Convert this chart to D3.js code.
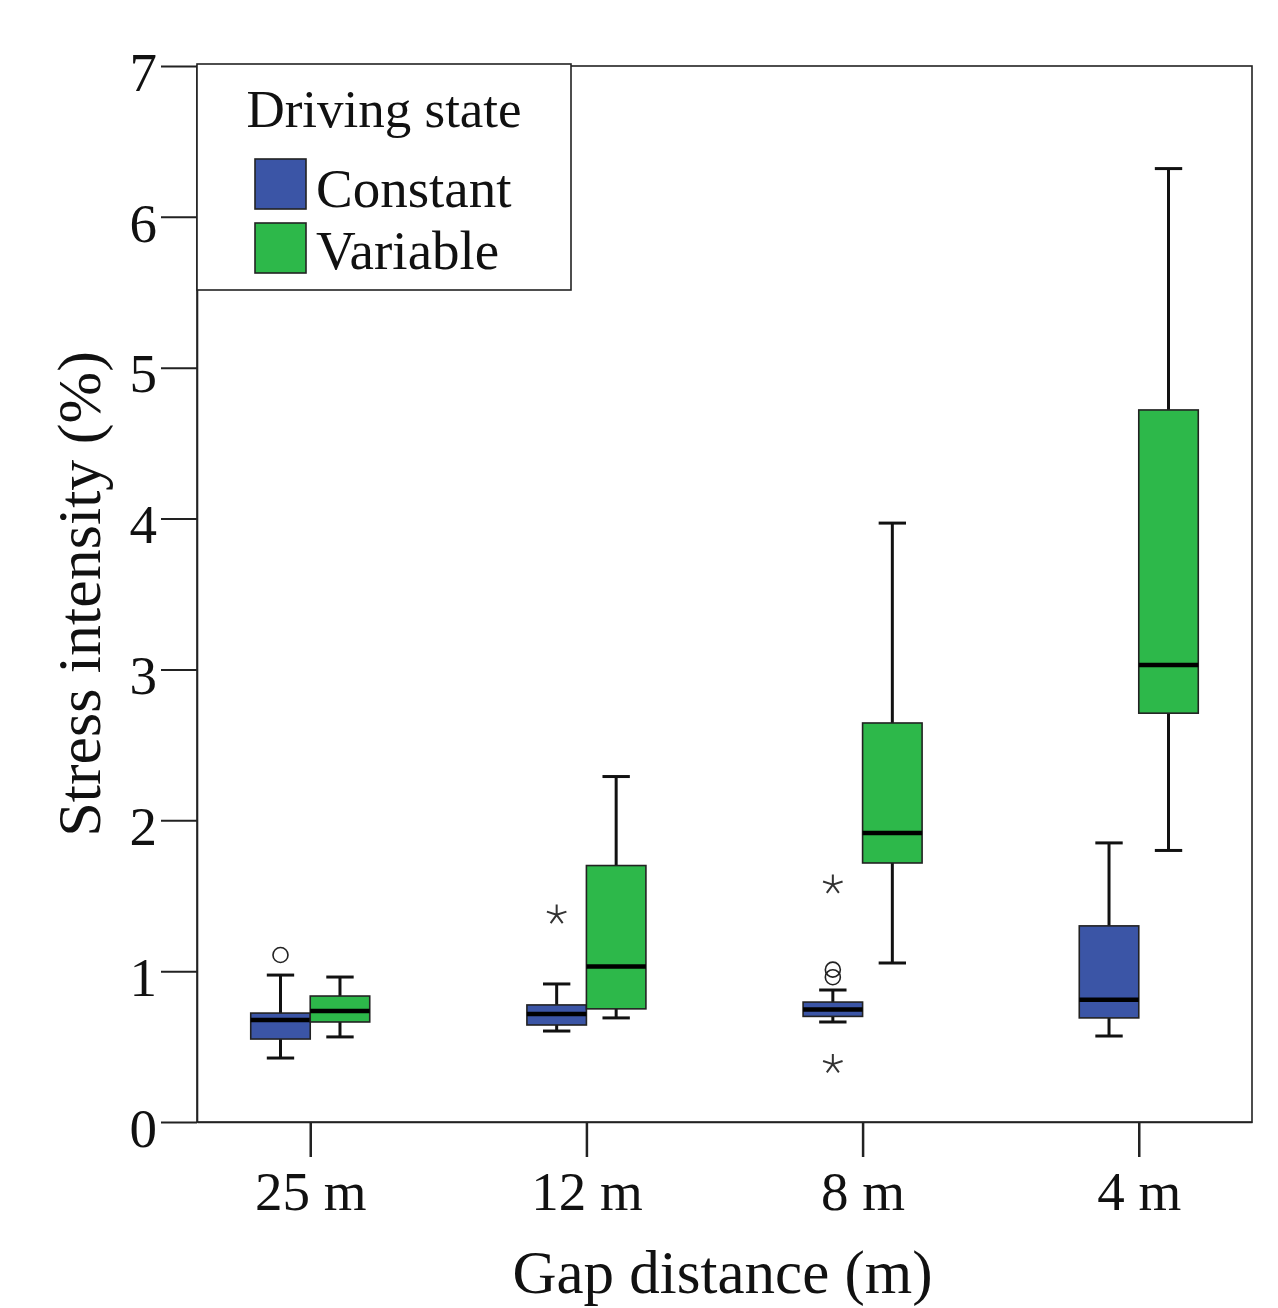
<!DOCTYPE html>
<html>
<head>
<meta charset="utf-8">
<script src="https://cdn.jsdelivr.net/npm/d3@7"></script>
<style>
  html, body { margin: 0; padding: 0; background: #fff; }
  svg { display: block; }
  text { font-family: "Liberation Serif", "Times New Roman", serif; fill: #111; }
</style>
</head>
<body>
<svg id="chart" width="1278" height="1308"></svg>
<script>
// ---- data ----
const categories = ["25 m", "12 m", "8 m", "4 m"];
const states = ["Constant", "Variable"];
const yTicks = [0, 1, 2, 3, 4, 5, 6, 7];
// [lowWhisker, Q1, median, Q3, highWhisker]
const constantBoxes = [
  [0.424, 0.550, 0.676, 0.722, 0.974],
  [0.603, 0.643, 0.716, 0.776, 0.915],
  [0.663, 0.700, 0.745, 0.795, 0.875],
  [0.570, 0.690, 0.810, 1.300, 1.850]
];
const variableBoxes = [
  [0.564, 0.663, 0.736, 0.835, 0.961],
  [0.690, 0.750, 1.030, 1.700, 2.290],
  [1.054, 1.717, 1.915, 2.645, 3.970],
  [1.800, 2.710, 3.030, 4.720, 6.320]
];
const outlierCircles = [
  { cat: "25 m", state: "Constant", v: 1.107 },
  { cat: "8 m", state: "Constant", v: 1.01 },
  { cat: "8 m", state: "Constant", v: 0.96 }
];
const outlierStars = [
  { cat: "12 m", state: "Constant", v: 1.38 },
  { cat: "8 m", state: "Constant", v: 1.58 },
  { cat: "8 m", state: "Constant", v: 0.39 }
];
const colors = { Constant: "#3b55a6", Variable: "#2db84a" };

// ---- layout ----
const svg = d3.select("#chart");
const L = 197, R = 1252, T = 66, B = 1122;

const x = d3.scalePoint().domain(categories).range([L, R]).padding(0.41);
const inner = d3.scaleBand().domain(states).range([-59.5, 59.5]).padding(0);
const y = d3.scaleLinear().domain([0, 7]).range([B, T]);

const capW = inner.bandwidth() * 0.46;

// frame
svg.append("rect").attr("x", L).attr("y", T).attr("width", R - L).attr("height", B - T)
  .attr("fill", "none").attr("stroke", "#222").attr("stroke-width", 1.6);

// y axis
const yAxis = svg.append("g").attr("transform", `translate(${L},0)`)
  .call(d3.axisLeft(y).tickValues(yTicks).tickFormat(d3.format("d")).tickSizeInner(36).tickSizeOuter(0).tickPadding(4));
yAxis.select(".domain").attr("stroke", "#222").attr("stroke-width", 1.6);
yAxis.selectAll(".tick line").attr("stroke", "#222").attr("stroke-width", 2);
yAxis.selectAll(".tick text").attr("font-size", 55).attr("dy", "0.44em")
  .style("font-family", "'Liberation Serif', serif").attr("fill", "#111");

// x axis
const xAxis = svg.append("g").attr("transform", `translate(0,${B})`)
  .call(d3.axisBottom(x).tickSizeInner(35).tickSizeOuter(0).tickPadding(14));
xAxis.select(".domain").attr("stroke", "#222").attr("stroke-width", 1.6);
xAxis.selectAll(".tick line").attr("stroke", "#222").attr("stroke-width", 2.5);
xAxis.selectAll(".tick text").attr("font-size", 55).attr("dy", "0.71em")
  .style("font-family", "'Liberation Serif', serif").attr("fill", "#111");

// axis titles
svg.append("text").attr("x", (L + R) / 2 - 2).attr("y", 1293).attr("text-anchor", "middle")
  .attr("font-size", 61).text("Gap distance (m)");
svg.append("text").attr("transform", `translate(100,${(T + B) / 2}) rotate(-90)`)
  .attr("text-anchor", "middle").attr("font-size", 62).text("Stress intensity (%)");

// boxes
const series = [
  { state: "Constant", boxes: constantBoxes },
  { state: "Variable", boxes: variableBoxes }
];
const g = svg.append("g");
series.forEach(s => {
  s.boxes.forEach((b, i) => {
    const cx = x(categories[i]) + inner(s.state) + inner.bandwidth() / 2;
    const x0 = x(categories[i]) + inner(s.state);
    const [lo, q1, med, q3, hi] = b;
    // whiskers
    g.append("line").attr("x1", cx).attr("x2", cx).attr("y1", y(hi)).attr("y2", y(q3))
      .attr("stroke", "#111").attr("stroke-width", 3);
    g.append("line").attr("x1", cx).attr("x2", cx).attr("y1", y(q1)).attr("y2", y(lo))
      .attr("stroke", "#111").attr("stroke-width", 3);
    g.append("line").attr("x1", cx - capW / 2).attr("x2", cx + capW / 2).attr("y1", y(hi)).attr("y2", y(hi))
      .attr("stroke", "#111").attr("stroke-width", 3);
    g.append("line").attr("x1", cx - capW / 2).attr("x2", cx + capW / 2).attr("y1", y(lo)).attr("y2", y(lo))
      .attr("stroke", "#111").attr("stroke-width", 3);
    // box
    g.append("rect").attr("x", x0).attr("width", inner.bandwidth())
      .attr("y", y(q3)).attr("height", y(q1) - y(q3))
      .attr("fill", colors[s.state]).attr("stroke", "#222").attr("stroke-width", 1.6);
    // median
    g.append("line").attr("x1", x0).attr("x2", x0 + inner.bandwidth()).attr("y1", y(med)).attr("y2", y(med))
      .attr("stroke", "#000").attr("stroke-width", 4.5);
  });
});

// outliers: circles
g.selectAll("circle.out").data(outlierCircles).join("circle").attr("class", "out")
  .attr("cx", d => x(d.cat) + inner(d.state) + inner.bandwidth() / 2)
  .attr("cy", d => y(d.v)).attr("r", 7.5)
  .attr("fill", "none").attr("stroke", "#222").attr("stroke-width", 1.6);

// outliers: 5-armed asterisks
const star5 = {
  draw(ctx, size) {
    const r = Math.sqrt(size) / 2;
    for (let k = 0; k < 5; k++) {
      const a = -Math.PI / 2 + k * 2 * Math.PI / 5;
      ctx.moveTo(0, 0);
      ctx.lineTo(r * Math.cos(a), r * Math.sin(a));
    }
  }
};
g.selectAll("path.star").data(outlierStars).join("path").attr("class", "star")
  .attr("transform", d => `translate(${x(d.cat) + inner(d.state) + inner.bandwidth() / 2},${y(d.v) + 1})`)
  .attr("d", d3.symbol(star5, 420)())
  .attr("fill", "none").attr("stroke", "#333").attr("stroke-width", 2);

// legend
const lg = svg.append("g");
lg.append("rect").attr("x", 197).attr("y", 64).attr("width", 374).attr("height", 226)
  .attr("fill", "#fff").attr("stroke", "#222").attr("stroke-width", 1.6);
lg.append("text").attr("x", 384).attr("y", 127).attr("text-anchor", "middle")
  .attr("font-size", 53).text("Driving state");
states.forEach((s, i) => {
  lg.append("rect").attr("x", 255).attr("y", 159 + i * 64).attr("width", 51).attr("height", 50)
    .attr("fill", colors[s]).attr("stroke", "#222").attr("stroke-width", 1.6);
  lg.append("text").attr("x", 316).attr("y", 207 + i * 62).attr("font-size", 55).text(s);
});
</script>
</body>
</html>
